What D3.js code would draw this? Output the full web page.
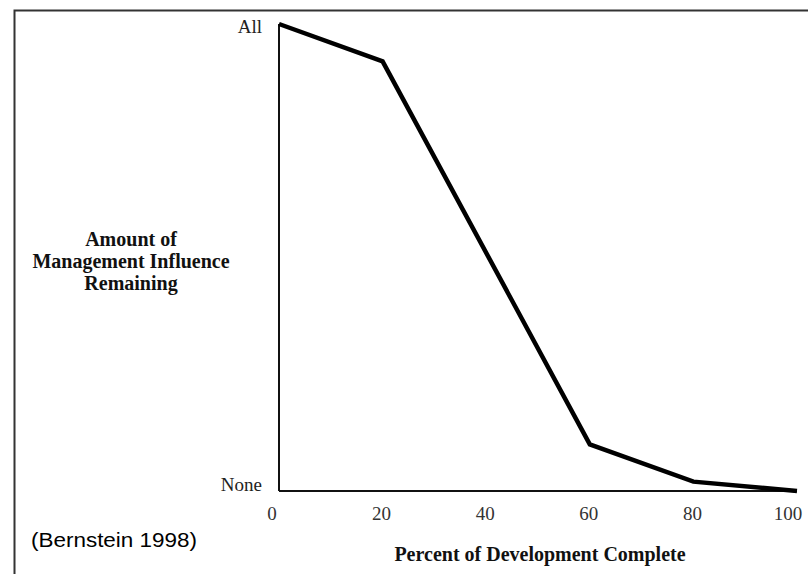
<!DOCTYPE html>
<html>
<head>
<meta charset="utf-8">
<script src="https://cdn.jsdelivr.net/npm/d3@7"></script>
<style>
  body { margin: 0; background: #fff; }
  svg { display: block; }
</style>
</head>
<body>
<script>
// data
const percentComplete = [0, 20, 60, 80, 100];
const influenceLeft = [100, 92, 10, 2, 0];
const xTicks = [0, 20, 40, 60, 80, 100];
const yTickLabels = [{ v: 0, label: "None" }, { v: 100, label: "All" }];
const yTitleLines = ["Amount of", "Management Influence", "Remaining"];

const width = 808, height = 574;
const svg = d3.select("body").append("svg")
  .attr("width", width)
  .attr("height", height);

// frame (top + left only)
svg.append("path")
  .attr("d", "M14.5,574 L14.5,10.5 L808,10.5")
  .attr("fill", "none")
  .attr("stroke", "#333")
  .attr("stroke-width", 2);

const x = d3.scaleLinear().domain([0, 100]).range([279, 797]);
const y = d3.scaleLinear().domain([0, 100]).range([491, 24]);

const serif = "'Liberation Serif', 'DejaVu Serif', serif";

// axes
svg.append("line")
  .attr("x1", x(0)).attr("x2", x(0))
  .attr("y1", y(100)).attr("y2", y(0))
  .attr("stroke", "#111").attr("stroke-width", 2);
svg.append("line")
  .attr("x1", x(0)).attr("x2", x(100))
  .attr("y1", y(0)).attr("y2", y(0))
  .attr("stroke", "#111").attr("stroke-width", 2);

// x tick labels (end labels sit a little inside)
svg.append("g")
  .selectAll("text")
  .data(xTicks)
  .join("text")
  .attr("x", d => x(d) + (d === 0 ? -7 : d === 100 ? -9 : -1))
  .attr("y", 520)
  .attr("text-anchor", "middle")
  .style("font-family", serif)
  .style("font-size", "19px")
  .attr("fill", "#333")
  .text(d => d);

// y labels
svg.append("g")
  .selectAll("text")
  .data(yTickLabels)
  .join("text")
  .attr("x", 262)
  .attr("y", d => y(d.v) + (d.v === 0 ? 0 : 9))
  .attr("text-anchor", "end")
  .style("font-family", serif)
  .style("font-size", "19px")
  .attr("fill", "#222")
  .text(d => d.label);

// the curve
svg.append("path")
  .datum(percentComplete.map((p, i) => [p, influenceLeft[i]]))
  .attr("fill", "none")
  .attr("stroke", "#000")
  .attr("stroke-width", 4.5)
  .attr("stroke-linejoin", "miter")
  .attr("d", d3.line().x(d => x(d[0])).y(d => y(d[1])));

// y title
svg.append("text")
  .attr("y", 246)
  .attr("text-anchor", "middle")
  .style("font-family", serif)
  .style("font-size", "20px")
  .style("font-weight", "bold")
  .attr("fill", "#111")
  .selectAll("tspan")
  .data(yTitleLines)
  .join("tspan")
  .attr("x", 131)
  .attr("dy", (d, i) => i === 0 ? 0 : 22)
  .text(d => d);

// x title
svg.append("text")
  .attr("x", 540)
  .attr("y", 561)
  .attr("text-anchor", "middle")
  .style("font-family", serif)
  .style("font-size", "20px")
  .style("font-weight", "bold")
  .attr("fill", "#111")
  .text("Percent of Development Complete");

// source note
svg.append("text")
  .attr("x", 31)
  .attr("y", 547)
  .attr("textLength", 166)
  .attr("lengthAdjust", "spacingAndGlyphs")
  .style("font-family", "'Liberation Sans', Arial, sans-serif")
  .style("font-size", "20px")
  .attr("fill", "#000")
  .text("(Bernstein 1998)");
</script>
</body>
</html>
